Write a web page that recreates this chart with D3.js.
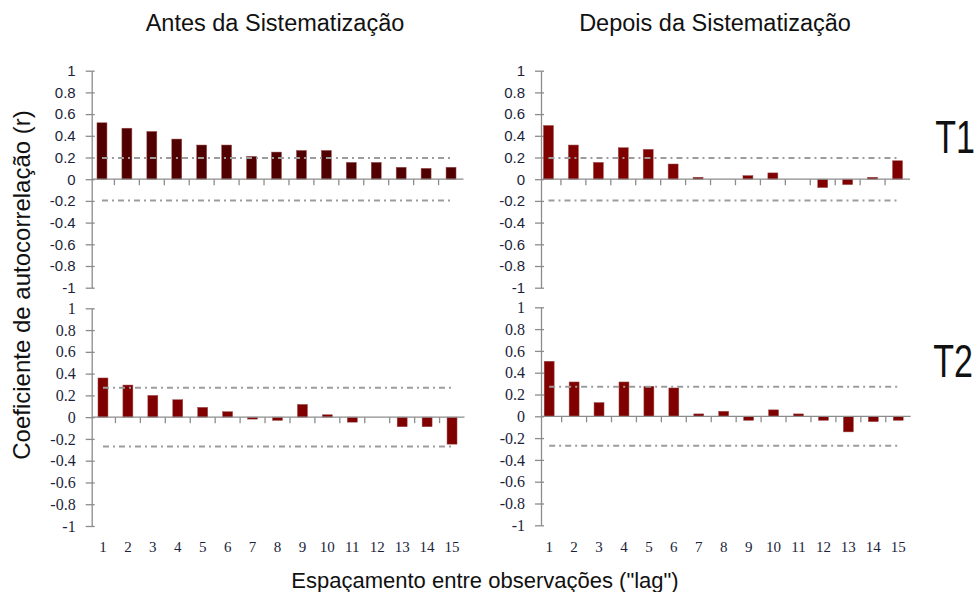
<!DOCTYPE html>
<html>
<head>
<meta charset="utf-8">
<script src="https://cdn.jsdelivr.net/npm/d3@7"></script>
<style>
  body { margin: 0; background: #fff; }
</style>
</head>
<body>
<svg id="chart" width="976" height="592"></svg>
<script>
// lags (categories) and y ticks
const lags = ["1", "2", "3", "4", "5", "6", "7", "8", "9", "10", "11", "12", "13", "14", "15"];
const yTicks = [1, 0.8, 0.6, 0.4, 0.2, 0, -0.2, -0.4, -0.6, -0.8, -1];

// autocorrelation coefficients
const antesT1 = [0.52, 0.47, 0.44, 0.37, 0.315, 0.315, 0.21, 0.25, 0.265, 0.265, 0.155, 0.155, 0.11, 0.1, 0.11];
const depoisT1 = [0.495, 0.315, 0.155, 0.29, 0.275, 0.14, 0.018, 0, 0.033, 0.058, 0, -0.077, -0.05, 0.018, 0.17];
const antesT2 = [0.36, 0.295, 0.2, 0.16, 0.09, 0.05, -0.018, -0.03, 0.117, 0.022, -0.046, 0, -0.088, -0.088, -0.248];
const depoisT2 = [0.505, 0.315, 0.126, 0.315, 0.275, 0.26, 0.022, 0.046, -0.037, 0.059, 0.022, -0.037, -0.143, -0.049, -0.037];

// confidence limits (dash-dot lines)
const limitT1 = 0.196;
const limitT2 = 0.27;

const svg = d3.select("#chart");

const sans = "'Liberation Sans', Arial, sans-serif";
const serif = "'Liberation Serif', 'Times New Roman', serif";

const panels = [
    { values: antesT1, limit: limitT1, left: 89.5, axisX: 91.7, top: 70.7, bottom: 287.7, fill: "#500000", labels: false, font: sans, fs: 15 },
    { values: depoisT1, limit: limitT1, left: 536, axisX: 541, top: 70.7, bottom: 287.7, fill: "#800000", labels: false, font: sans, fs: 15 },
    { values: antesT2, limit: limitT2, left: 90.5, axisX: 91.7, top: 308.3, bottom: 526, fill: "#800000", labels: true, font: serif, fs: 16 },
    { values: depoisT2, limit: limitT2, left: 536.7, axisX: 541, top: 307.3, bottom: 525.3, fill: "#800000", labels: true, font: serif, fs: 16 }
];

const axisColor = "#8c8c8c";

panels.forEach(p => {
    let x = d3.scaleBand().domain(lags).range([p.left, p.left + 374]).paddingInner(0.6).paddingOuter(0.3);
    let y = d3.scaleLinear().domain([-1, 1]).range([p.bottom, p.top]);
    let g = svg.append("g");

    // y axis
    let yAxis = g.append("g")
        .attr("transform", "translate(" + p.axisX + ",0)")
        .call(d3.axisLeft(y).tickValues(yTicks).tickSizeOuter(0).tickFormat(d => String(d)));
    yAxis.select(".domain").attr("stroke", axisColor).attr("stroke-width", 1.3);
    yAxis.selectAll(".tick line").attr("x1", 3).attr("x2", -6).attr("stroke", axisColor).attr("stroke-width", 1.3);
    yAxis.selectAll(".tick text")
        .attr("x", -16)
        .attr("fill", "#1c1f3a")
        .style("font-family", p.font)
        .style("font-size", p.fs + "px");

    // bars
    g.selectAll(".bar")
        .data(p.values)
        .join("rect")
        .attr("class", "bar")
        .attr("x", (d, i) => x(lags[i]))
        .attr("width", x.bandwidth())
        .attr("y", d => y(Math.max(0, d)))
        .attr("height", d => Math.abs(y(d) - y(0)))
        .attr("fill", p.fill)
        .attr("stroke", "#9a5050")
        .attr("stroke-width", 0.5);

    // x axis along zero
    let step = x.step();
    g.append("line")
        .attr("x1", p.axisX).attr("x2", p.left + 374)
        .attr("y1", y(0)).attr("y2", y(0))
        .attr("stroke", axisColor).attr("stroke-width", 1.3);
    g.selectAll(".xtick")
        .data(lags.slice(1))
        .join("line")
        .attr("class", "xtick")
        .attr("x1", d => x(d) - step * 0.3).attr("x2", d => x(d) - step * 0.3)
        .attr("y1", y(0)).attr("y2", y(0) + 6)
        .attr("stroke", axisColor).attr("stroke-width", 1.3);

    // confidence limits
    let xa = x(lags[0]) + x.bandwidth() / 2;
    let xb = x(lags[lags.length - 1]) + x.bandwidth() / 2;
    [p.limit, -p.limit].forEach(v => {
        g.append("line")
            .attr("x1", xa).attr("x2", xb)
            .attr("y1", y(v)).attr("y2", y(v))
            .attr("stroke", "#9c9c9c")
            .attr("stroke-width", 2)
            .attr("stroke-dasharray", "6,4,2,4");
    });

    // category labels under the lower panels
    if (p.labels) {
        g.selectAll(".xlabel")
            .data(lags)
            .join("text")
            .attr("class", "xlabel")
            .attr("x", d => x(d) + x.bandwidth() / 2)
            .attr("y", 552)
            .attr("text-anchor", "middle")
            .attr("fill", "#1c1f3a")
            .style("font-family", serif)
            .style("font-size", "15px")
            .text(d => d);
    }
});

// titles
svg.append("text").attr("x", 275).attr("y", 31).attr("text-anchor", "middle")
    .style("font-family", sans).style("font-size", "23.5px").attr("fill", "#111")
    .text("Antes da Sistematização");
svg.append("text").attr("x", 715).attr("y", 31).attr("text-anchor", "middle")
    .style("font-family", sans).style("font-size", "23.5px").attr("fill", "#111")
    .text("Depois da Sistematização");

// row labels
svg.append("text").attr("transform", "translate(955,153) scale(1,1.35)").attr("text-anchor", "middle")
    .style("font-family", sans).style("font-size", "34px").attr("fill", "#111")
    .text("T1");
svg.append("text").attr("transform", "translate(953,377) scale(1,1.35)").attr("text-anchor", "middle")
    .style("font-family", sans).style("font-size", "34px").attr("fill", "#111")
    .text("T2");

// axis titles
svg.append("text").attr("transform", "translate(30,285) rotate(-90)").attr("text-anchor", "middle")
    .style("font-family", sans).style("font-size", "24px").attr("fill", "#111")
    .text("Coeficiente de autocorrelação (r)");
svg.append("text").attr("x", 485).attr("y", 588).attr("text-anchor", "middle")
    .style("font-family", sans).style("font-size", "22px").attr("fill", "#111")
    .text("Espaçamento entre observações (\"lag\")");
</script>
</body>
</html>
